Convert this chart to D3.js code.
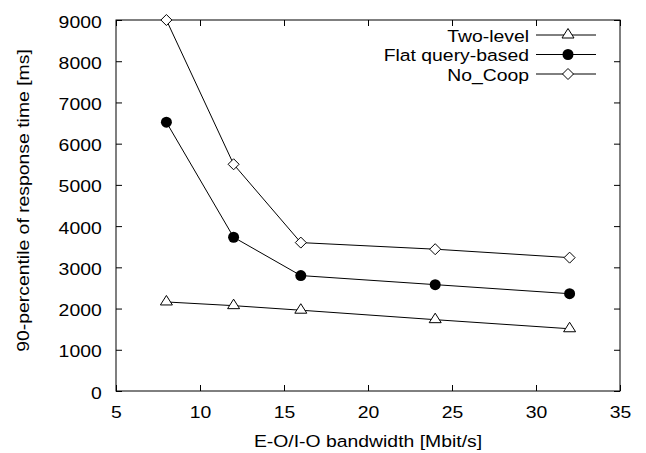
<!DOCTYPE html>
<html><head><meta charset="utf-8">
<script src="https://cdn.jsdelivr.net/npm/d3@7"></script>
<style>body{margin:0;background:#fff}text{font-family:"Liberation Sans",Arial,sans-serif;fill:#000}</style>
</head><body>
<svg id="c" width="646" height="453"></svg>
<script>
const bandwidth = [8, 12, 16, 24, 32];
const twoLevel = [2160, 2070, 1960, 1730, 1510];
const flatQuery = [6520, 3730, 2800, 2580, 2360];
const noCoop = [9000, 5500, 3600, 3440, 3235];
const seriesNames = ["Two-level", "Flat query-based", "No_Coop"];
const xTicks = [5, 10, 15, 20, 25, 30, 35];
const yTicks = [0, 1000, 2000, 3000, 4000, 5000, 6000, 7000, 8000, 9000];

const svg = d3.select("#c");
const L = 116, R = 620, T = 20, B = 391;
const x = d3.scaleLinear().domain([5, 35]).range([L, R]);
const y = d3.scaleLinear().domain([0, 9000]).range([B, T]);
const fs = 17, sx = 1.14;

// frame
svg.append("rect").attr("x", L).attr("y", T).attr("width", R - L).attr("height", B - T)
  .attr("fill", "none").attr("stroke", "#000").attr("stroke-width", 1);

// axes with inward ticks (mirrored on top/right)
const gx = svg.append("g").attr("transform", `translate(0,${B})`)
  .call(d3.axisBottom(x).tickValues(xTicks).tickSize(-6).tickFormat(d3.format("d")));
const gxt = svg.append("g").attr("transform", `translate(0,${T})`)
  .call(d3.axisTop(x).tickValues(xTicks).tickSize(-6).tickFormat(""));
const gy = svg.append("g").attr("transform", `translate(${L},0)`)
  .call(d3.axisLeft(y).tickValues(yTicks).tickSize(-6).tickFormat(d3.format("d")));
const gyr = svg.append("g").attr("transform", `translate(${R},0)`)
  .call(d3.axisRight(y).tickValues(yTicks).tickSize(-6).tickFormat(""));
[gx, gxt, gy, gyr].forEach(g => {
  g.select(".domain").remove();
  g.selectAll("line").attr("stroke", "#000");
  g.selectAll("text").attr("font-size", fs).attr("font-family", "Liberation Sans, Arial, sans-serif");
});
gx.selectAll("text").attr("dy", null).attr("y", 27.3).attr("transform", `scale(${sx},1)`);
gy.selectAll("text").attr("dy", null).attr("y", 7).attr("x", -14.3 / sx).attr("transform", `scale(${sx},1)`);

// axis labels
svg.append("text").attr("transform", `translate(${(L + R) / 2},446.5) scale(${sx},1)`)
  .attr("text-anchor", "middle").attr("font-size", fs).text("E-O/I-O bandwidth [Mbit/s]");
svg.append("text").attr("transform", `translate(29,${(T + B) / 2 - 5}) rotate(-90) scale(${sx},1)`)
  .attr("text-anchor", "middle").attr("font-size", fs).text("90-percentile of response time [ms]");

// marker drawers
function marker(g, type, cx, cy) {
  if (type === "tri") {
    g.append("path").attr("d", `M${cx},${cy - 6.5}L${cx + 6},${cy + 3}L${cx - 6},${cy + 3}Z`)
      .attr("fill", "#fff").attr("stroke", "#000").attr("stroke-width", 1);
  } else if (type === "circ") {
    g.append("circle").attr("cx", cx).attr("cy", cy).attr("r", 5.5).attr("fill", "#000");
  } else {
    g.append("path").attr("d", `M${cx},${cy - 5.5}L${cx + 5.5},${cy}L${cx},${cy + 5.5}L${cx - 5.5},${cy}Z`)
      .attr("fill", "#fff").attr("stroke", "#000").attr("stroke-width", 1);
  }
}

const series = [
  {name: seriesNames[0], vals: twoLevel, m: "tri"},
  {name: seriesNames[1], vals: flatQuery, m: "circ"},
  {name: seriesNames[2], vals: noCoop, m: "dia"}
];
const line = d3.line().x(d => x(d[0])).y(d => y(d[1]));
series.forEach(s => {
  const pts = bandwidth.map((b, i) => [b, s.vals[i]]);
  svg.append("path").attr("d", line(pts)).attr("fill", "none").attr("stroke", "#000").attr("stroke-width", 1);
  const g = svg.append("g");
  pts.forEach(p => marker(g, s.m, x(p[0]), y(p[1])));
});

// legend
const legY = [35, 54.5, 74];
series.forEach((s, i) => {
  svg.append("text").attr("transform", `translate(529,${legY[i] + 6.5}) scale(${sx},1)`)
    .attr("text-anchor", "end").attr("font-size", fs).text(s.name);
  svg.append("line").attr("x1", 536).attr("x2", 596).attr("y1", legY[i]).attr("y2", legY[i])
    .attr("stroke", "#000").attr("stroke-width", 1);
  marker(svg, s.m, 568, legY[i]);
});
</script>
</body></html>
